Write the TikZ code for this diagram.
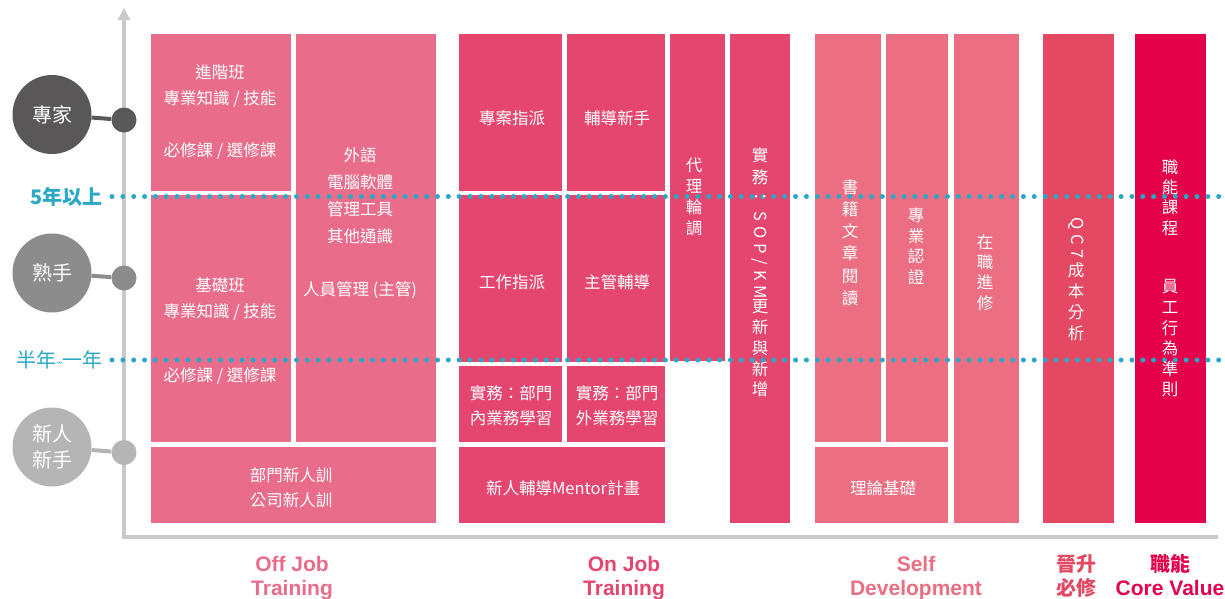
\documentclass[tikz,border=0pt]{standalone}
\usepackage{fontspec}
\setmainfont{Noto Sans CJK TC}
\newfontfamily\latbf{Liberation Sans}
\newfontfamily\cjk{Noto Sans CJK TC}
\usetikzlibrary{arrows.meta}
\definecolor{offc}{HTML}{E96C8B}
\definecolor{onc}{HTML}{E5466F}
\definecolor{selfc}{HTML}{EB6E82}
\definecolor{qcc}{HTML}{E44862}
\definecolor{corec}{HTML}{E4004B}
\definecolor{axisc}{HTML}{C9C9C9}
\definecolor{dotc}{HTML}{2AA8C6}
\definecolor{expc}{HTML}{595757}
\definecolor{midc}{HTML}{8C8C8C}
\definecolor{newc}{HTML}{B5B5B5}
\begin{document}
\begin{tikzpicture}[x=1pt,y=-1pt,
 blk/.style={rectangle,inner sep=0pt,outer sep=0pt,anchor=north west},
 txt/.style={text=white,inner sep=0pt,align=center,font=\fontsize{16.5}{26}\selectfont},
 vtxt/.style={text=white,inner sep=0pt,align=center,font=\fontsize{16.5}{#1}\selectfont},
 rtxt/.style={text=white,inner sep=0pt,rotate=-90,font=\fontsize{16.5}{20}\selectfont},
 bigc/.style={circle,minimum size=79pt,inner sep=0pt,text=white,align=center,font=\fontsize{20}{26}\selectfont},
 smallc/.style={circle,minimum size=25pt,inner sep=0pt},
 axisline/.style={draw=axisc,line width=3.5pt},
 dotline/.style={draw=dotc,line width=5pt,line cap=round,dash pattern=on 0pt off 10.85pt},
 lvl/.style={text=dotc,inner sep=0pt,anchor=east,font=\fontsize{20}{24}\selectfont},
 lbl/.style={inner sep=0pt,anchor=base,font=\latbf\bfseries\fontsize{21}{24}\selectfont},
 lblc/.style={inner sep=0pt,anchor=base,font=\cjk\bfseries\fontsize{20}{24}\selectfont},
]
\useasboundingbox (0,0) rectangle (1225,598);

% axis
\coordinate (ytop) at (124,8);
\coordinate (orig) at (124,537);
\coordinate (xend) at (1218,537);
\draw[axisline,{Triangle[width=12pt,length=12pt]}-] (ytop) -- (orig) -- (xend);

% level circles
\node[bigc,fill=expc] (c1) at (52,114.5) {專家};
\node[smallc,fill=expc] (s1) at (124,120) {};
\node[bigc,fill=midc] (c2) at (52,273) {熟手};
\node[smallc,fill=midc] (s2) at (124,278) {};
\node[bigc,fill=newc] (c3) at (52,447) {新人\\新手};
\node[smallc,fill=newc] (s3) at (124,452.5) {};
\draw[expc,line width=4pt] (c1) -- (s1);
\draw[midc,line width=4pt] (c2) -- (s2);
\draw[newc,line width=4pt] (c3) -- (s3);

% Off Job blocks
\node[blk,fill=offc,minimum width=140pt,minimum height=157pt] (adv) at (151,34) {};
\node[blk,fill=offc,minimum width=140pt,minimum height=247pt] (bas) at (151,195) {};
\node[blk,fill=offc,minimum width=140pt,minimum height=408pt] (gen) at (296,34) {};
\node[blk,fill=offc,minimum width=285pt,minimum height=76pt] (orient) at (151,447) {};
% On Job blocks
\node[blk,fill=onc,minimum width=103pt,minimum height=157pt] (proj) at (459,34) {};
\node[blk,fill=onc,minimum width=98pt,minimum height=157pt] (coach) at (567,34) {};
\node[blk,fill=onc,minimum width=103pt,minimum height=167pt] (work) at (459,195) {};
\node[blk,fill=onc,minimum width=98pt,minimum height=167pt] (boss) at (567,195) {};
\node[blk,fill=onc,minimum width=103pt,minimum height=76pt] (inner) at (459,366) {};
\node[blk,fill=onc,minimum width=98pt,minimum height=76pt] (outer) at (567,366) {};
\node[blk,fill=onc,minimum width=206pt,minimum height=76pt] (mentor) at (459,447) {};
\node[blk,fill=onc,minimum width=55pt,minimum height=327pt] (rot) at (670,34) {};
\node[blk,fill=onc,minimum width=60pt,minimum height=489pt] (sop) at (730,34) {};
% Self Development blocks
\node[blk,fill=selfc,minimum width=66pt,minimum height=408pt] (book) at (815,34) {};
\node[blk,fill=selfc,minimum width=62pt,minimum height=408pt] (cert) at (886,34) {};
\node[blk,fill=selfc,minimum width=133pt,minimum height=76pt] (theo) at (815,447) {};
\node[blk,fill=selfc,minimum width=65pt,minimum height=489pt] (study) at (954,34) {};
% promotion / core
\node[blk,fill=qcc,minimum width=71pt,minimum height=489pt] (qc) at (1043,34) {};
\node[blk,fill=corec,minimum width=71pt,minimum height=489pt] (core) at (1135,34) {};

% dotted level lines
\coordinate (d1a) at (112,196.5);
\coordinate (d1b) at (1225,196.5);
\coordinate (d2a) at (112,360);
\coordinate (d2b) at (1225,360);
\draw[dotline] (d1a) -- (d1b);
\draw[dotline] (d2a) -- (d2b);
\node[lvl,font=\bfseries\fontsize{20}{24}\selectfont] (lv1) at (103,196.5) {5年以上};
\node[lvl] (lv2) at (103,360) {半年{\fontsize{12}{12}\selectfont\textasciitilde}一年};

% texts in blocks
\node[txt] (t-adv) at (220,112) {進階班\\專業知識 / 技能\\[26pt]必修課 / 選修課};
\node[txt] (t-bas) at (220,331) {基礎班\\專業知識 / 技能\\[38pt]必修課 / 選修課};
\node[txt,font=\fontsize{16.5}{27}\selectfont] (t-gen) at (360,223) {外語\\電腦軟體\\管理工具\\其他通識\\[26pt]人員管理 (主管)};
\node[txt,font=\fontsize{16.5}{25}\selectfont] (t-orient) at (291,487.5) {部門新人訓\\公司新人訓};
\node[txt] (t-proj) at (512,118) {專案指派};
\node[txt] (t-coach) at (617,118) {輔導新手};
\node[txt] (t-work) at (512,282) {工作指派};
\node[txt] (t-boss) at (617,282) {主管輔導};
\node[txt,font=\fontsize{16.5}{25}\selectfont] (t-inner) at (511,405.5) {實務：部門\\內業務學習};
\node[txt,font=\fontsize{16.5}{25}\selectfont] (t-outer) at (617,405.5) {實務：部門\\外業務學習};
\node[txt] (t-mentor) at (563,488) {新人輔導Mentor計畫};
\node[vtxt=21] (t-rot) at (694,196.5) {代\\理\\輪\\調};
\node[vtxt=22] (t-sop1) at (760,166) {實\\務};
\node[rtxt] (t-sop2) at (760,244) {：\kern6pt S\kern5pt O\kern5pt P\kern5pt /\kern5pt K\kern5pt M};
\node[vtxt=20.75] (t-sop3) at (760,348.5) {更\\新\\與\\新\\增};
\node[vtxt=22.2] (t-book) at (850,242.5) {書\\籍\\文\\章\\閱\\讀};
\node[vtxt=20.7] (t-cert) at (916,246) {專\\業\\認\\證};
\node[txt] (t-theo) at (883,488) {理論基礎};
\node[vtxt=20.3] (t-study) at (985,272.5) {在\\職\\進\\修};
\node[rtxt] (t-qc1) at (1076,238) {Q\kern4.5pt C\kern4.5pt 7};
\node[vtxt=21] (t-qc2) at (1076,301.5) {成\\本\\分\\析};
\node[vtxt=20.3] (t-core1) at (1170,197.5) {職\\能\\課\\程};
\node[vtxt=20.6] (t-core2) at (1170,338.5) {員\\工\\行\\為\\準\\則};

% bottom category labels
\node[lbl,text=offc] (l1a) at (292,571) {Off Job};
\node[lbl,text=offc] (l1b) at (292,595) {Training};
\node[lbl,text=onc] (l2a) at (624,571) {On Job};
\node[lbl,text=onc] (l2b) at (624,595) {Training};
\node[lbl,text=selfc] (l3a) at (916,571) {Self};
\node[lbl,text=selfc] (l3b) at (916,595) {Development};
\node[lblc,text=qcc] (l4a) at (1076,571) {晉升};
\node[lblc,text=qcc] (l4b) at (1076,595) {必修};
\node[lblc,text=corec] (l5a) at (1170,571) {職能};
\node[lbl,text=corec] (l5b) at (1170,595) {Core Value};
\end{tikzpicture}
\end{document}
